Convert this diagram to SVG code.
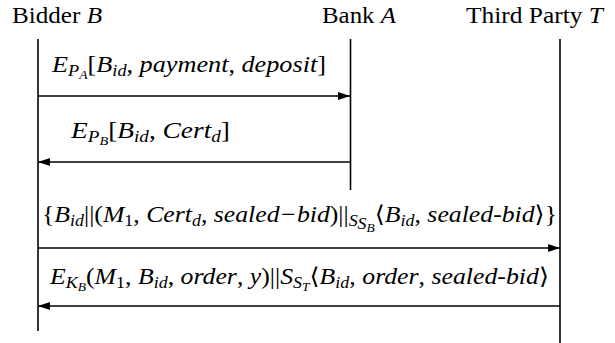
<svg xmlns="http://www.w3.org/2000/svg" width="615" height="343" viewBox="0 0 615 343">
<style>
text{font-size:23px;fill:#000}
.h{font-size:23px}
.i{font-style:italic}
.s{font-size:16px}
.ss{font-size:12px}
.life{stroke:#000;stroke-width:1.6;fill:none}
.msg{stroke:#000;stroke-width:1.3;fill:none}
</style>
<defs>
<marker id="ah" viewBox="0 0 12 8" refX="12" refY="4" markerWidth="12" markerHeight="8" markerUnits="userSpaceOnUse" orient="auto">
<path d="M0,0 L12,4 L0,8 Z" fill="#000"/>
</marker>
</defs>
<rect width="615" height="343" fill="#fff"/>
<g font-family="Liberation Serif, DejaVu Serif, serif">
<g id="bidder">
<text class="h" x="12" y="23" textLength="90" lengthAdjust="spacingAndGlyphs">Bidder <tspan class="i">B</tspan></text>
<line class="life" x1="38" y1="39" x2="38" y2="331"/>
</g>
<g id="bank">
<text class="h" x="322" y="23" textLength="74" lengthAdjust="spacingAndGlyphs">Bank <tspan class="i">A</tspan></text>
<line class="life" x1="350.5" y1="39" x2="350.5" y2="190"/>
</g>
<g id="thirdparty">
<text class="h" x="466" y="23" textLength="137" lengthAdjust="spacingAndGlyphs">Third Party <tspan class="i">T</tspan></text>
<line class="life" x1="560" y1="39" x2="560" y2="343"/>
</g>
<g id="connectors">
<line class="msg" x1="38" y1="96" x2="350" y2="96" marker-end="url(#ah)"/>
<text x="52" y="72" textLength="274" lengthAdjust="spacingAndGlyphs"><tspan class="i">E</tspan><tspan class="i s" dy="4">P</tspan><tspan class="i ss" dy="3">A</tspan><tspan dy="-7">[</tspan><tspan class="i">B</tspan><tspan class="i s" dy="4">id</tspan><tspan dy="-4">, </tspan><tspan class="i">payment</tspan>, <tspan class="i">deposit</tspan>]</text>

<line class="msg" x1="350" y1="162" x2="38" y2="162" marker-end="url(#ah)"/>
<text x="71" y="138" textLength="159" lengthAdjust="spacingAndGlyphs"><tspan class="i">E</tspan><tspan class="i s" dy="4">P</tspan><tspan class="i ss" dy="3">B</tspan><tspan dy="-7">[</tspan><tspan class="i">B</tspan><tspan class="i s" dy="4">id</tspan><tspan dy="-4">, </tspan><tspan class="i">Cert</tspan><tspan class="i s" dy="4">d</tspan><tspan dy="-4">]</tspan></text>

<line class="msg" x1="38" y1="248" x2="560" y2="248" marker-end="url(#ah)"/>
<text x="42" y="222" textLength="515" lengthAdjust="spacingAndGlyphs">{<tspan class="i">B</tspan><tspan class="i s" dy="4">id</tspan><tspan dy="-4">||(</tspan><tspan class="i">M</tspan><tspan class="s" dy="4">1</tspan><tspan dy="-4">, </tspan><tspan class="i">Cert</tspan><tspan class="i s" dy="4">d</tspan><tspan dy="-4">, </tspan><tspan class="i">sealed−bid</tspan>)||<tspan class="i s" dy="4">S</tspan><tspan class="i s" dy="3">S</tspan><tspan class="i ss" dy="3">B</tspan><tspan dy="-10">⟨</tspan><tspan class="i">B</tspan><tspan class="i s" dy="4">id</tspan><tspan dy="-4">, </tspan><tspan class="i">sealed-bid</tspan>⟩}</text>

<line class="msg" x1="560" y1="306" x2="38" y2="306" marker-end="url(#ah)"/>
<text x="50" y="284" textLength="499" lengthAdjust="spacingAndGlyphs"><tspan class="i">E</tspan><tspan class="i s" dy="4">K</tspan><tspan class="i ss" dy="3">B</tspan><tspan dy="-7">(</tspan><tspan class="i">M</tspan><tspan class="s" dy="4">1</tspan><tspan dy="-4">, </tspan><tspan class="i">B</tspan><tspan class="i s" dy="4">id</tspan><tspan dy="-4">, </tspan><tspan class="i">order</tspan>, <tspan class="i">y</tspan>)||<tspan class="i">S</tspan><tspan class="i s" dy="4">S</tspan><tspan class="i ss" dy="3">T</tspan><tspan dy="-7">⟨</tspan><tspan class="i">B</tspan><tspan class="i s" dy="4">id</tspan><tspan dy="-4">, </tspan><tspan class="i">order</tspan>, <tspan class="i">sealed-bid</tspan>⟩</text>
</g>
</g>
</svg>
